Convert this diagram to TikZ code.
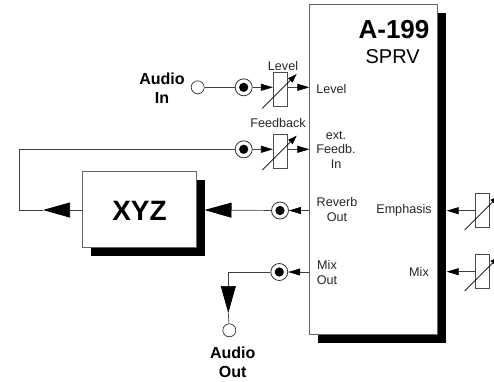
\documentclass[tikz,border=0pt]{standalone}
\usepackage{fontspec}
\setmainfont{Liberation Sans}
\usetikzlibrary{arrows.meta,shadows}
\tikzset{
x=1pt, y=-1pt, % reference pixels, counted from the top
every picture/.style={line width=0.8pt},
wire/.style={draw=black!75, line width=0.7pt},
smalltip/.style={wire, -{Triangle[length=12pt,width=7pt,color=black,fill=black]}}, % short heads on the modules
bigtip/.style={wire, -{Triangle[length=27pt,width=15pt,color=black,fill=black]}}, % long heads on the patch lines
module/.style={draw=black!60, fill=white, line width=0.9pt, drop shadow={shadow xshift=8.5pt, shadow yshift=-8.5pt, fill=black, opacity=1}},
jack/.style={circle, draw=black!80, fill=white, line width=0.8pt, minimum size=17pt, inner sep=0pt, path picture={\fill[black] (path picture bounding box.center) circle (4.6pt);}},
socket/.style={circle, draw=black!80, fill=white, line width=0.7pt, minimum size=13pt, inner sep=0pt},
pot/.style={draw=black!70, fill=white, line width=0.8pt, minimum width=14pt, minimum height=34pt, inner sep=0pt},
potarrow/.style={draw=black, line width=0.7pt, -{Triangle[length=9pt,width=6pt,color=black,fill=black]}},
label/.style={font=\fontsize{12.6}{14.5}\selectfont, inner sep=0pt, align=center, text=black!85},
bigtext/.style={font=\fontsize{16}{19}\selectfont\bfseries, inner sep=0pt, align=center},
}
\begin{document}
\begin{tikzpicture}
	\useasboundingbox (0,0) rectangle (494,381);
	% modules
	\node[module, minimum width=128pt, minimum height=330pt] (main) at (373.8,169.5) {};
	\node[module, minimum width=114.5pt, minimum height=76pt] (xyz) at (139.5,209.5) {};
	\node[font=\fontsize{28}{28}\selectfont\bfseries, inner sep=0pt] (xyztext) at (139.5,211) {XYZ};
	\node[font=\fontsize{26}{26}\selectfont\bfseries, inner sep=0pt] (title) at (394,30) {A-199};
	\node[font=\fontsize{20}{20}\selectfont, inner sep=0pt] (subtitle) at (392.7,57) {SPRV};
	% labels inside the big module
	\node[label, anchor=west] (levelin) at (316,88.7) {Level};
	\node[label] (fbin) at (336,149.5) {ext.\\Feedb.\\In};
	\node[label] (revout) at (337,209.7) {Reverb\\Out};
	\node[label] (mixout) at (327,272.5) {Mix\\Out};
	\node[label] (emph) at (404,210.7) {Emphasis};
	\node[label] (mixin) at (419,271.7) {Mix};
	% sockets and jacks
	\node[bigtext] (audioin) at (162,88.5) {Audio\\In};
	\node[socket] (in) at (197.7,87.3) {};
	\node[jack] (j1) at (243.7,87.3) {};
	\node[jack] (j2) at (243.7,149.3) {};
	\node[jack] (j3) at (280,210.5) {};
	\node[jack] (j4) at (279.3,272) {};
	\node[socket] (out) at (229.3,330.3) {};
	\node[bigtext] (audioout) at (232.7,362.5) {Audio\\Out};
	% pots
	\node[pot] (p1) at (280.3,89.2) {};
	\node[pot] (p2) at (280.3,151) {};
	\node[pot] (p3) at (482.5,210.3) {};
	\node[pot] (p4) at (482.5,271.7) {};
	\node[label] (p1text) at (283,66) {Level};
	\node[label] (p2text) at (278,123) {Feedback};
	% corners and free ends
	\coordinate (c1) at (19,149.3);
	\coordinate (c2) at (19,210);
	\coordinate (t1) at (43,210);
	\coordinate (t2) at (204.5,210);
	\coordinate (c3) at (228.3,272);
	\coordinate (t3) at (228.3,313);
	\coordinate (a1) at (262.3,108.3);
	\coordinate (b1) at (296.7,74);
	\coordinate (a2) at (262.3,170);
	\coordinate (b2) at (296.7,135.7);
	\coordinate (a3) at (464.7,230);
	\coordinate (b3) at (499,195.7);
	\coordinate (a4) at (464.7,291);
	\coordinate (b4) at (499,256.7);
	% connections
	\draw[wire] (in) -- (j1);
	\draw[smalltip] (j1) -- (p1.west |- j1);
	\draw[smalltip] (p1.east |- j1) -- (main.west |- j1);
	\draw[smalltip] (j2) -- (p2.west |- j2);
	\draw[smalltip] (p2.east |- j2) -- (main.west |- j2);
	\draw[wire] (j2) -- (c1) -- (c2) -- (t1);
	\draw[bigtip] (xyz.west |- t1) -- (t1);
	\draw[bigtip] (j3) -- (t2);
	\draw[smalltip] (main.west |- j3) -- (j3);
	\draw[smalltip] (main.west |- j4) -- (j4);
	\draw[wire] (j4) -- (c3);
	\draw[bigtip] (c3) -- (t3);
	\draw[wire] (t3) -- (out);
	\draw[smalltip] (p3.west |- emph) -- (446.7,210.7);
	\draw[smalltip] (p4.west |- mixin) -- (446.7,271.7);
	% pot sliders
	\draw[potarrow] (a1) -- (b1);
	\draw[potarrow] (a2) -- (b2);
	\draw[potarrow] (a3) -- (b3);
	\draw[potarrow] (a4) -- (b4);
\end{tikzpicture}
\end{document}
